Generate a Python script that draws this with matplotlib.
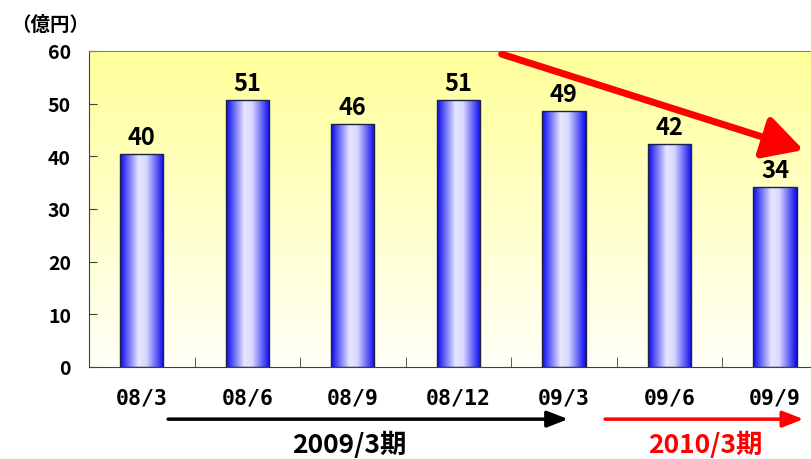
import numpy as np
import matplotlib
matplotlib.use("Agg")
from matplotlib import pyplot as plt
from matplotlib.colors import LinearSegmentedColormap
from matplotlib.patches import FancyArrowPatch
import matplotlib.transforms as mtransforms

plt.rcParams['font.family'] = ['Noto Sans CJK JP', 'DejaVu Sans']
plt.rcParams['font.weight'] = 'bold'

## data
periods = ["08/3", "08/6", "08/9", "08/12", "09/3", "09/6", "09/9"]
values = [40.4, 50.6, 46.1, 50.7, 48.6, 42.3, 34.1]
y_ticks = [0, 10, 20, 30, 40, 50, 60]

fig = plt.figure(figsize=(8.11, 4.6), dpi=100)
ax = fig.add_axes([0.1097, 0.2, 0.911, 0.687])
x = np.arange(len(periods))
ax.set_xlim(-0.5, len(periods) - 0.5)
ax.set_ylim(0, 60)

# yellow background fading to white
bg = LinearSegmentedColormap.from_list("bg", ["#FFFFF8", "#FFFF99"])
ax.imshow(np.linspace(0, 1, 256).reshape(-1, 1), cmap=bg, aspect="auto",
          origin="lower", extent=[-0.5, len(periods) - 0.5, 0, 60], zorder=0)

# bars with horizontal blue gradient
bar_cmap = LinearSegmentedColormap.from_list(
    "barg", [(0, "#0808F0"), (0.42, "#E6E6FF"), (0.6, "#D8D8FF"), (1, "#0808F0")])
width = 0.41
bars = ax.bar(x, values, width=width, color="none", edgecolor="#202040", lw=1.0, zorder=3)
grad = np.linspace(0, 1, 256).reshape(1, -1)
for b in bars:
    im = ax.imshow(grad, cmap=bar_cmap, aspect="auto",
                   extent=[b.get_x(), b.get_x() + b.get_width(), 0, b.get_height()], zorder=2)
    im.set_clip_path(b)

for xi, v in zip(x, values):
    ax.text(xi, v + 1.0, f"{v:.0f}", ha="center", va="bottom", fontsize=17, fontweight="bold")

# axes styling
ax.spines["right"].set_visible(False)
ax.spines["top"].set_color("#808080")
ax.spines["left"].set_color("#404040")
ax.spines["bottom"].set_color("#404040")
ax.set_yticks(y_ticks)
ax.set_yticklabels([str(t) for t in y_ticks], fontsize=14, fontweight="bold")
ax.tick_params(axis="y", direction="in", length=6, pad=13, color="#404040")
ax.set_xticks(x)
ax.set_xticklabels(periods, fontsize=15.5, fontweight="bold", family="DejaVu Sans Mono")
ax.tick_params(axis="x", which="major", length=0, pad=15)
ax.set_xticks(x[:-1] + 0.5, minor=True)
ax.tick_params(axis="x", which="minor", direction="in", length=7, color="#404040")

fig.text(0.014, 0.945, "（億円）", fontsize=14, fontweight="bold", va="center")

# big red trend arrow
ax.add_patch(FancyArrowPatch((3.41, 59.4), (6.27, 41.2), arrowstyle="-|>,head_length=1.2,head_width=0.65",
                             mutation_scale=20, color="red", lw=5, zorder=5, shrinkA=0, shrinkB=0))

# period arrows below the axis
trans = mtransforms.blended_transform_factory(ax.transData, ax.transAxes)
ax.annotate("", xy=(4.04, -0.165), xytext=(0.25, -0.165), xycoords=trans, textcoords=trans,
            arrowprops=dict(arrowstyle="-|>,head_length=0.9,head_width=0.35", color="black", lw=2.5,
                            mutation_scale=14, shrinkA=0, shrinkB=0), annotation_clip=False)
ax.annotate("", xy=(6.27, -0.165), xytext=(4.39, -0.165), xycoords=trans, textcoords=trans,
            arrowprops=dict(arrowstyle="-|>,head_length=0.9,head_width=0.35", color="red", lw=2.5,
                            mutation_scale=14, shrinkA=0, shrinkB=0), annotation_clip=False)
ax.text(1.97, -0.245, "2009/3期", transform=trans, ha="center", va="center",
        fontsize=19, fontweight="bold", color="black")
ax.text(5.34, -0.245, "2010/3期", transform=trans, ha="center", va="center",
        fontsize=19, fontweight="bold", color="red")

fig.savefig("out.png", dpi=100)
